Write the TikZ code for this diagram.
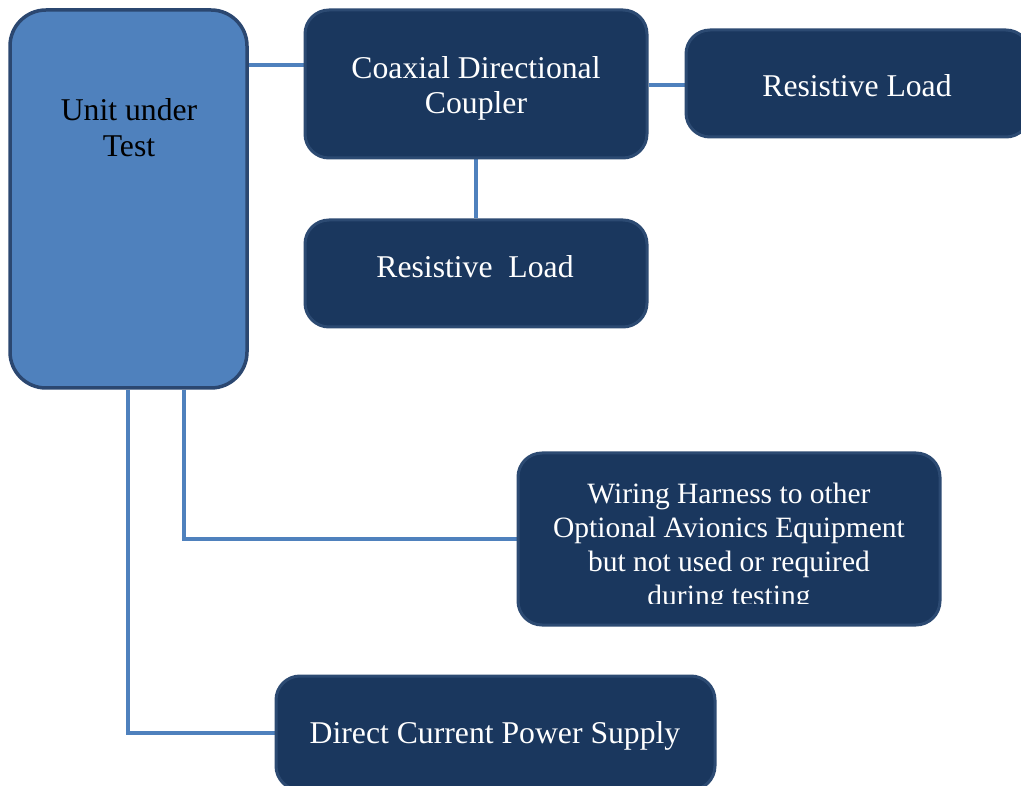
\documentclass[tikz,border=0pt]{standalone}
\usepackage{fontspec}
\setmainfont{Liberation Serif}
\usetikzlibrary{backgrounds}
\definecolor{uutblue}{HTML}{4F81BD}
\definecolor{uutedge}{HTML}{2B4770}
\definecolor{navyfill}{HTML}{1A375E}
\definecolor{navyedge}{HTML}{2C4A72}
\definecolor{wireblue}{HTML}{4F81BD}
\tikzset{
  unitbox/.style={draw=uutedge, fill=uutblue, line width=3.5pt, rounded corners=36pt},
  navybox/.style={draw=navyedge, fill=navyfill, line width=3pt, rounded corners=24pt},
  boxtext/.style={text=white, align=center, font=\fontsize{31.7}{35}\selectfont},
  wire/.style={draw=wireblue, line width=4.5pt},
}
\begin{document}
\begin{tikzpicture}[x=1pt, y=-1pt]
\useasboundingbox (0,0) rectangle (1021,786);

% unit under test
\node[unitbox, minimum width=237pt, minimum height=378pt] (uut) at (128.5,199) {};
\node[font=\fontsize{31.7}{36}\selectfont, align=center, text=black] (uutlabel) at (129,128) {Unit under\\Test};

% coupler and its two loads
\node[navybox, minimum width=342pt, minimum height=148pt] (coupler) at (476,84) {};
\node[boxtext] (couplerlabel) at (476,88.5) {Coaxial Directional\\Coupler};
\node[navybox, minimum width=344pt, minimum height=107pt] (loadright) at (858,83.5) {};
\node[boxtext] (loadrightlabel) at (857,86) {Resistive Load};
\node[navybox, minimum width=342pt, minimum height=107pt] (loadbottom) at (476,273.5) {};
\node[boxtext] (loadbottomlabel) at (475,267) {Resistive\ \ Load};

% wiring harness (its last text line is cut off by the box's text area)
\node[navybox, minimum width=422pt, minimum height=172pt] (harness) at (729,539) {};
\begin{scope}
  \clip (540,470) rectangle (920,603);
  \node[boxtext, font=\fontsize{29.5}{34}\selectfont] (harnesslabel) at (729,547) {Wiring Harness to other\\Optional Avionics Equipment\\but not used or required\\during testing};
\end{scope}

% power supply
\node[navybox, minimum width=439pt, minimum height=114pt] (power) at (495.5,733) {};
\node[boxtext] (powerlabel) at (495,736) {Direct Current Power Supply};

% connectors
\begin{scope}[on background layer]
  \draw[wire] (uut.east |- 0,65) -- (coupler.west |- 0,65);
  \draw[wire] (coupler.east |- 0,85) -- (loadright.west |- 0,85);
  \draw[wire] (coupler.south) -- (loadbottom.north);
  \draw[wire] (uut.south -| 184,0) |- (harness.west);
  \draw[wire] (uut.south -| 128,0) |- (power.west);
\end{scope}
\end{tikzpicture}
\end{document}
